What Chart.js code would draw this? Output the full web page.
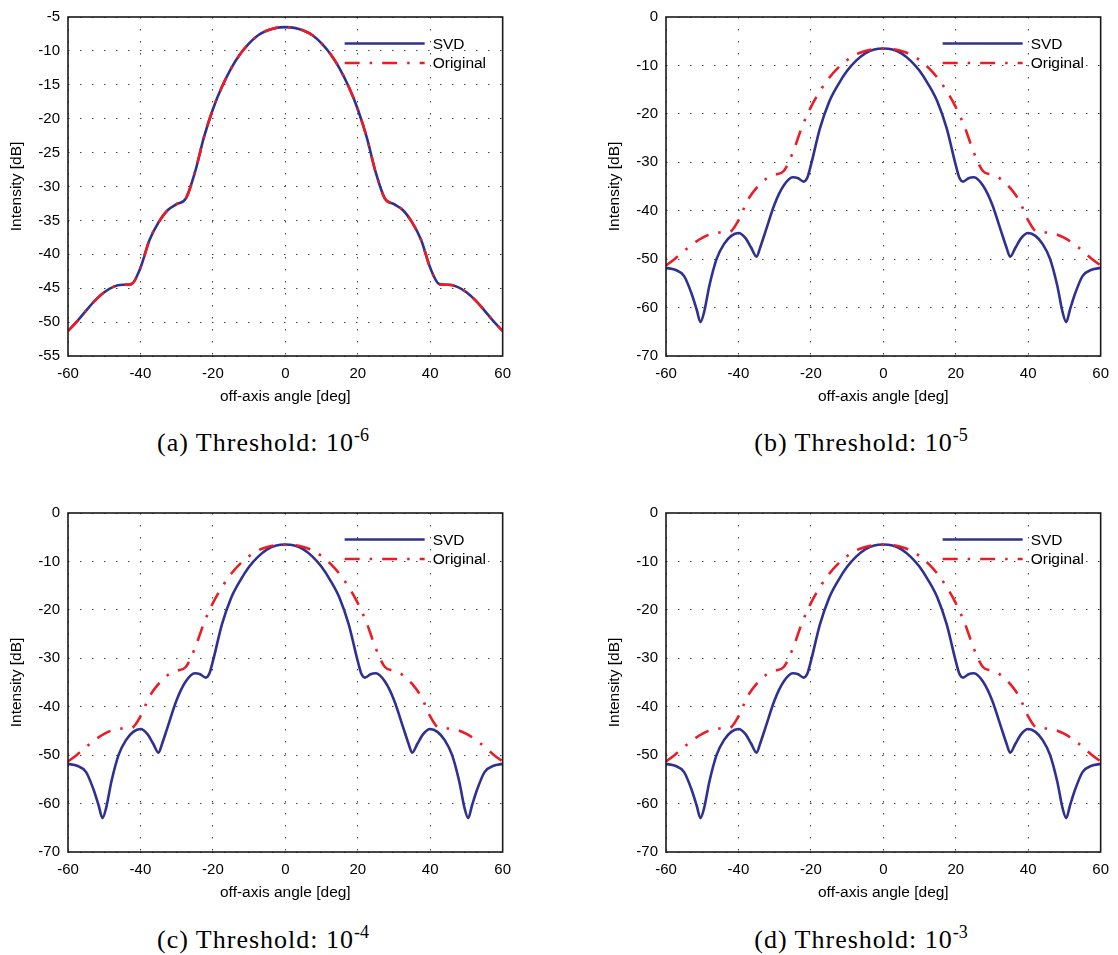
<!DOCTYPE html>
<html>
<head>
<meta charset="utf-8">
<script src="https://cdn.jsdelivr.net/npm/chart.js@4.4.0/dist/chart.umd.min.js"></script>
<style>
    html, body { margin: 0; padding: 0; background: #fff; overflow: hidden; }
    body { width: 1118px; height: 955px; position: relative; }
    canvas { position: absolute; }
    .caption {
        position: absolute;
        width: 400px;
        text-align: center;
        font-family: "Liberation Serif", "Times New Roman", serif;
        font-size: 26px;
        letter-spacing: 1px;
        color: #000;
        line-height: 30px;
        white-space: nowrap;
    }
    .caption sup { font-size: 18px; vertical-align: 10px; line-height: 0; letter-spacing: 0; }
</style>
</head>
<body>
<canvas id="chartA" width="520" height="410" style="left:0;top:0"></canvas>
<canvas id="chartB" width="520" height="410" style="left:598px;top:0"></canvas>
<canvas id="chartC" width="520" height="410" style="left:0;top:496px"></canvas>
<canvas id="chartD" width="520" height="410" style="left:598px;top:496px"></canvas>
<div class="caption" style="left:63px;top:428px">(a) Threshold: 10<sup>-6</sup></div>
<div class="caption" style="left:661px;top:428px">(b) Threshold: 10<sup>-5</sup></div>
<div class="caption" style="left:63px;top:925px">(c) Threshold: 10<sup>-4</sup></div>
<div class="caption" style="left:661px;top:925px">(d) Threshold: 10<sup>-3</sup></div>
<script>
// Beam pattern: off-axis angle [deg] vs intensity [dB]

// Original pattern (same in every panel)
const angles = [-60, -57.5, -55, -52.5, -50, -47.5, -45, -42.5, -40, -37.5, -35, -32.5, -30, -27.5, -25, -22.5, -20, -17.5, -15, -12.5, -10, -7.5, -5, -2.5,
    0, 2.5, 5, 7.5, 10, 12.5, 15, 17.5, 20, 22.5, 25, 27.5, 30, 32.5, 35, 37.5, 40, 42.5, 45, 47.5, 50, 52.5, 55, 57.5, 60];
const originalDb = [-51.3, -49.9, -48.3, -46.8, -45.6, -44.8, -44.5, -44.4, -42.0, -37.9, -35.3, -33.5, -32.6, -31.8, -28.0, -22.8, -18.6, -15.3, -12.6, -10.5, -8.9, -7.7, -7.0, -6.6,
    -6.5, -6.6, -7.0, -7.7, -8.9, -10.5, -12.6, -15.3, -18.6, -22.8, -28.0, -31.8, -32.6, -33.5, -35.3, -37.9, -42.0, -44.4, -44.5, -44.8, -45.6, -46.8, -48.3, -49.9, -51.3];

// SVD result at threshold 1e-6 matches the original
const svdAnglesThr6 = angles;
const svdDbThr6 = originalDb;

// SVD result at thresholds 1e-5, 1e-4, 1e-3
const svdAngles = [-60, -57.5, -55, -53, -51.5, -50.5, -49.5, -48, -46, -44, -42, -40, -38, -36.5, -35, -34, -32.5, -30, -27.5, -25, -23.5, -22, -21, -20,
    -17.5, -15, -12.5, -10, -7.5, -5, -2.5, 0, 2.5, 5, 7.5, 10, 12.5, 15, 17.5,
    20, 21, 22, 23.5, 25, 27.5, 30, 32.5, 34, 35, 36.5, 38, 40, 42, 44, 46, 48, 49.5, 50.5, 51.5, 53, 55, 57.5, 60];
const svdDb = [-51.8, -52.2, -53.5, -57.0, -60.5, -63.0, -61.0, -55.4, -49.9, -46.9, -45.2, -44.6, -45.7, -47.6, -49.5, -47.6, -44.2, -38.6, -34.8, -33.1, -33.3, -34.0, -33.2, -30.6,
    -23.0, -17.6, -14.0, -11.1, -9.0, -7.5, -6.7, -6.5, -6.7, -7.5, -9.0, -11.1, -14.0, -17.6, -23.0,
    -30.6, -33.2, -34.0, -33.3, -33.1, -34.8, -38.6, -44.2, -47.6, -49.5, -47.6, -45.7, -44.6, -45.2, -46.9, -49.9, -55.4, -61.0, -63.0, -60.5, -57.0, -53.5, -52.2, -51.8];

const xTickValues = [-60, -40, -20, 0, 20, 40, 60];
const yTicksThr6 = [-55, -50, -45, -40, -35, -30, -25, -20, -15, -10, -5];
const yTicksOther = [-70, -60, -50, -40, -30, -20, -10, 0];

const seriesLabels = ['SVD', 'Original'];
const colors = {
    svd: '#2e3192',
    original: '#ed1c24',
    grid: '#444444',
    frame: '#1a1a1a'
};

Chart.defaults.font.family = '"Liberation Sans", Arial, Helvetica, sans-serif';
Chart.defaults.color = '#000';

// black box around the plot area
const framePlugin = {
    id: 'frame',
    afterDatasetsDraw(chart) {
        const {ctx, chartArea} = chart;
        ctx.save();
        ctx.strokeStyle = colors.frame;
        ctx.lineWidth = 1.6;
        ctx.setLineDash([]);
        ctx.strokeRect(chartArea.left, chartArea.top, chartArea.right - chartArea.left, chartArea.bottom - chartArea.top);
        ctx.restore();
    }
};

// legend in the top right corner, inside the axes, without a box
const insideLegend = {
    id: 'insideLegend',
    afterDraw(chart) {
        const {ctx, chartArea} = chart;
        chart.data.datasets.forEach((ds, i) => {
            const y = chartArea.top + 26.5 + i * 19.5;
            ctx.save();
            ctx.strokeStyle = ds.borderColor;
            ctx.lineWidth = ds.borderWidth;
            ctx.setLineDash(ds.borderDash || []);
            ctx.beginPath();
            ctx.moveTo(chartArea.right - 158, y);
            ctx.lineTo(chartArea.right - 78, y);
            ctx.stroke();
            ctx.setLineDash([]);
            ctx.fillStyle = '#000';
            ctx.font = '15.5px "Liberation Sans", Arial, sans-serif';
            ctx.textBaseline = 'middle';
            ctx.fillText(ds.label, chartArea.right - 70, y + 1);
            ctx.restore();
        });
    }
};

function toPoints(xs, ys) {
    return xs.map((x, i) => ({x: x, y: ys[i]}));
}

function makePanel(canvasId, svdX, svdY, yTicks) {
    const ctx = document.getElementById(canvasId).getContext('2d');
    return new Chart(ctx, {
        type: 'scatter',
        data: {
            datasets: [
                {
                    label: seriesLabels[0],
                    data: toPoints(svdX, svdY),
                    showLine: true,
                    borderColor: colors.svd,
                    backgroundColor: colors.svd,
                    borderWidth: 2.6,
                    pointRadius: 0,
                    cubicInterpolationMode: 'monotone',
                    order: 1
                },
                {
                    label: seriesLabels[1],
                    data: toPoints(angles, originalDb),
                    showLine: true,
                    borderColor: colors.original,
                    backgroundColor: colors.original,
                    borderWidth: 2.6,
                    borderDash: [15, 10, 2.5, 10],
                    pointRadius: 0,
                    cubicInterpolationMode: 'monotone',
                    order: 0
                }
            ]
        },
        options: {
            responsive: false,
            animation: false,
            layout: {
                padding: {left: 0, top: 13, right: 11.5, bottom: 0}
            },
            plugins: {
                legend: {display: false},
                tooltip: {enabled: false}
            },
            scales: {
                x: {
                    type: 'linear',
                    min: xTickValues[0],
                    max: xTickValues[xTickValues.length - 1],
                    afterBuildTicks: scale => { scale.ticks = xTickValues.map(v => ({value: v})); },
                    afterFit: scale => { scale.height = 54; },
                    ticks: {
                        padding: 9,
                        maxRotation: 0,
                        font: {size: 15},
                        color: '#000'
                    },
                    grid: {
                        color: colors.grid,
                        lineWidth: 1,
                        drawTicks: false
                    },
                    border: {display: false, dash: [1.5, 10.5]},
                    title: {
                        display: true,
                        text: 'off-axis angle [deg]',
                        font: {size: 15.5},
                        padding: {top: 0, bottom: 3.7},
                        color: '#000'
                    }
                },
                y: {
                    type: 'linear',
                    min: yTicks[0],
                    max: yTicks[yTicks.length - 1],
                    afterBuildTicks: scale => { scale.ticks = yTicks.map(v => ({value: v})); },
                    afterFit: scale => { scale.width = 68; },
                    ticks: {
                        padding: 8,
                        font: {size: 15},
                        color: '#000'
                    },
                    grid: {
                        color: colors.grid,
                        lineWidth: 1,
                        drawTicks: false
                    },
                    border: {display: false, dash: [1.5, 10.5]},
                    title: {
                        display: true,
                        text: 'Intensity [dB]',
                        font: {size: 15.5},
                        padding: {top: 7.5, bottom: 0},
                        color: '#000'
                    }
                }
            }
        },
        plugins: [framePlugin, insideLegend]
    });
}

makePanel('chartA', svdAnglesThr6, svdDbThr6, yTicksThr6);
makePanel('chartB', svdAngles, svdDb, yTicksOther);
makePanel('chartC', svdAngles, svdDb, yTicksOther);
makePanel('chartD', svdAngles, svdDb, yTicksOther);
</script>
</body>
</html>
